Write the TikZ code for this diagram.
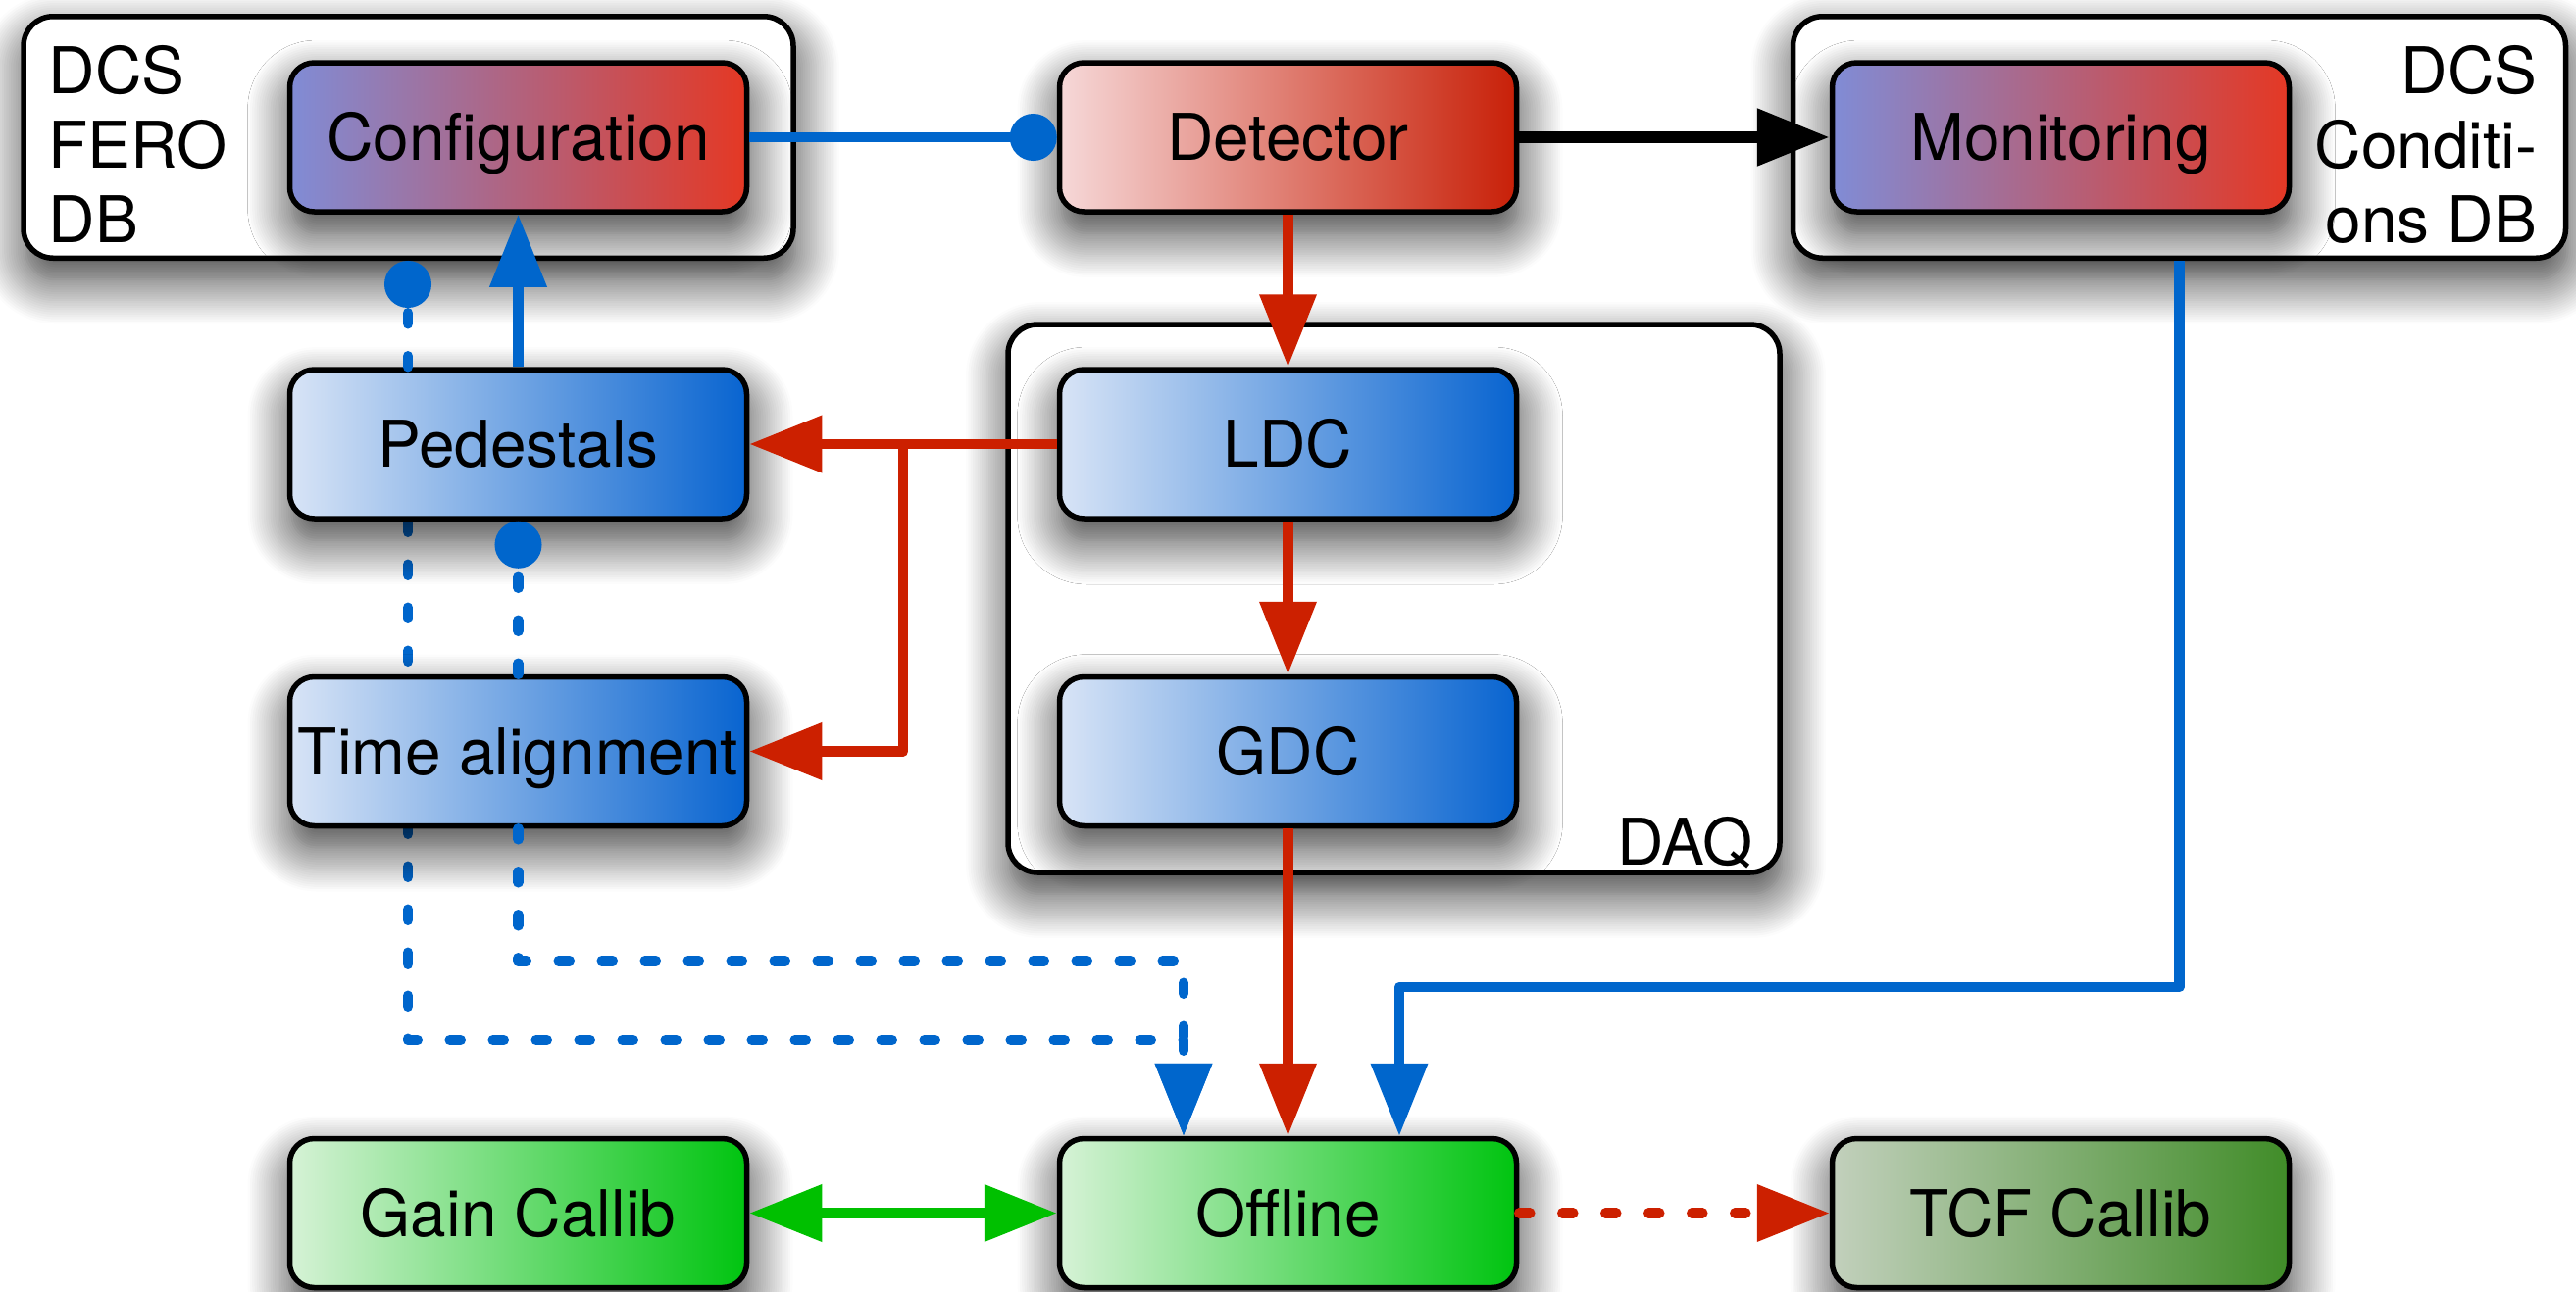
\documentclass[tikz,border=0pt]{standalone}
\usepackage{fontspec}
\setmainfont{TeX Gyre Heros}
\usetikzlibrary{arrows.meta, shadows.blur, backgrounds, calc}

\definecolor{linkblue}{RGB}{0,102,204}
\definecolor{linkred}{RGB}{204,32,0}
\definecolor{linkgreen}{RGB}{0,192,0}
\definecolor{dcsleft}{RGB}{128,140,214}
\definecolor{dcsright}{RGB}{228,56,36}
\definecolor{detleft}{RGB}{246,216,216}
\definecolor{detright}{RGB}{200,32,8}
\definecolor{daqleft}{RGB}{216,228,246}
\definecolor{daqright}{RGB}{8,100,208}
\definecolor{offleft}{RGB}{214,242,214}
\definecolor{offright}{RGB}{0,196,16}
\definecolor{tcfleft}{RGB}{194,208,188}
\definecolor{tcfright}{RGB}{64,140,40}

\tikzset{
  shade box/.style={blur shadow={shadow xshift=0.2mm, shadow yshift=-2.2mm, shadow blur radius=4.5mm, shadow blur steps=20, shadow opacity=80}},
  block/.style={draw=black, line width=0.55mm, rounded corners=2.5mm, minimum width=46.6mm, minimum height=15.2mm, inner sep=0pt, text height=4.75mm, text depth=0pt, align=center, shade box},
  panel/.style={block, fill=white, rounded corners=3mm},
  dcsblock/.style={block, left color=dcsleft, right color=dcsright},
  detblock/.style={block, left color=detleft, right color=detright},
  daqblock/.style={block, left color=daqleft, right color=daqright},
  offblock/.style={block, left color=offleft, right color=offright},
  tcfblock/.style={block, left color=tcfleft, right color=tcfright},
  link/.style={line width=1.05mm, line join=round},
  bigtip/.style={-{Triangle[length=7.4mm, width=5.6mm]}},
  dottip/.style={-{Circle[length=4.8mm]}},
  dotted link/.style={link, line cap=round, dash pattern=on 1.1mm off 3.3mm},
}

\begin{document}
\begin{tikzpicture}[x=0.1mm, y=-0.1mm, font=\fontsize{18.7}{21.6}\selectfont]
	\useasboundingbox (0,0) rectangle (2627,1318);
	% outer frames
	\node[panel, minimum width=78.5mm, minimum height=24.65mm] (fero) at (416.5,140) {};
	\node[panel, minimum width=78.8mm, minimum height=24.65mm] (cond) at (2222.5,140) {};
	\node[panel, minimum width=78.7mm, minimum height=55.9mm] (daq) at (1421.5,610.5) {};
	\node[anchor=north west, align=left, inner sep=0pt] (ferolabel) at (49,46) {DCS\\FERO\\DB};
	\node[anchor=north east, align=right, inner sep=0pt] (condlabel) at (2588,46) {DCS\\Conditi-\\ons DB};
	\node[anchor=base east, inner sep=0pt] (daqlabel) at (1788,882) {DAQ};
	% blocks
	\node[dcsblock] (config) at (528.5,140) {Configuration};
	\node[detblock] (detector) at (1313.5,140) {Detector};
	\node[dcsblock] (monitor) at (2101.5,140) {Monitoring};
	\node[daqblock] (ped) at (528.5,453) {Pedestals};
	\node[daqblock] (ldc) at (1313.5,453) {LDC};
	\node[daqblock] (talign) at (528.5,766.5) {Time alignment};
	\node[daqblock] (gdc) at (1313.5,766.5) {GDC};
	\node[offblock] (gain) at (528.5,1237.5) {Gain Callib};
	\node[offblock] (offline) at (1313.5,1237.5) {Offline};
	\node[tcfblock] (tcf) at (2101.5,1237.5) {TCF Callib};
	% links
	\draw[link, linkblue, dottip] (config) -- (detector);
	\draw[link, line width=1.2mm, black, bigtip] (detector) -- (monitor);
	\draw[link, linkred, bigtip] (detector) -- (ldc);
	\draw[link, linkred, bigtip] (ldc) -- (gdc);
	\draw[link, linkred, bigtip] (gdc) -- (offline);
	\draw[link, linkred, bigtip] (ldc) -- (ped);
	\coordinate (split) at ($(ped.east)!0.5!(ldc.west)$);
	\draw[link, linkred, bigtip] (split) |- (talign);
	\draw[link, linkblue, bigtip] (ped) -- (config);
	\coordinate (bend) at (1427,1007);
	\draw[link, linkblue, bigtip] (cond.south) |- (bend) -- (bend |- offline.north);
	\draw[link, linkgreen, {Triangle[length=7.4mm, width=5.6mm]}-{Triangle[length=7.4mm, width=5.6mm]}] (gain) -- (offline);
	\draw[dotted link, linkred, bigtip] (offline) -- (tcf);
	% dashed links
	\coordinate (pedleft) at ([xshift=-11.25mm]ped.north);
	\coordinate (pedlow) at ([xshift=-11.25mm]ped.south);
	\coordinate (upper) at (1207,980);
	\coordinate (lower) at (1207,1061);
	\draw[dotted link, linkblue, dottip] (pedleft) -- (pedleft |- fero.south);
	\draw[dotted link, linkblue, dottip] (talign) -- (ped);
	\draw[dotted link, linkblue, bigtip] (talign.south) |- (upper) -- (upper |- offline.north);
	\begin{pgfonlayer}{background}
		\draw[dotted link, linkblue, bigtip] (pedlow) |- (lower) -- (lower |- offline.north);
	\end{pgfonlayer}
\end{tikzpicture}
\end{document}
